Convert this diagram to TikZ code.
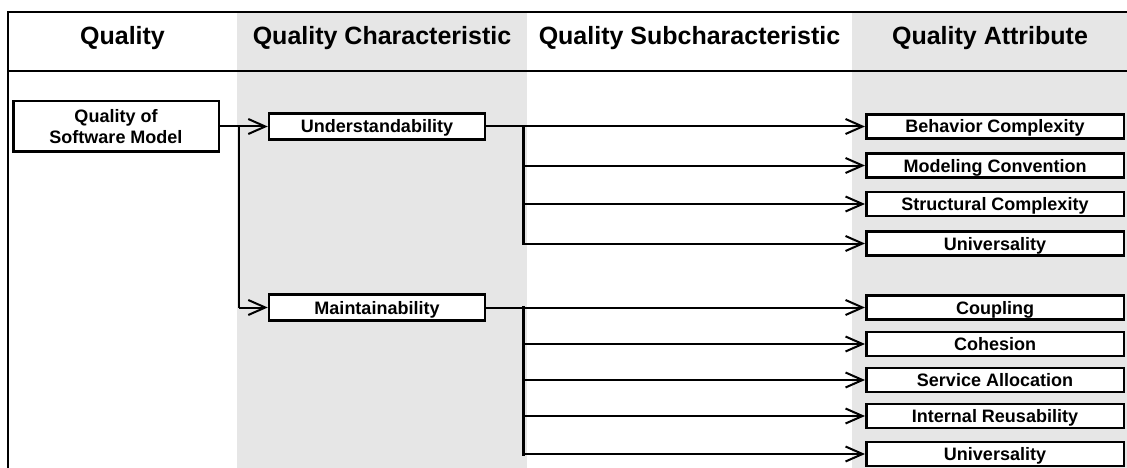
\documentclass[tikz,border=0pt]{standalone}
\usepackage{fontspec}
\setmainfont{Liberation Sans}
\usetikzlibrary{arrows.meta}
\definecolor{colshade}{RGB}{230,230,230}
\begin{document}
\begin{tikzpicture}[x=1pt,y=-1pt,
  hdr/.style={font=\fontsize{25}{30}\selectfont\bfseries, anchor=base, inner sep=0pt},
  boxbase/.style={draw, line width=2.5pt, fill=white, inner sep=0pt,
    font=\fontsize{18}{21}\selectfont\bfseries},
  box/.style={boxbase, text height=13pt, text depth=0pt},
  charbox/.style={box, minimum width=216pt, minimum height=26pt},
  attrbox/.style={box, minimum width=257.5pt, minimum height=24pt},
  link/.style={line width=2pt},
  arr/.style={link, -{Straight Barb[length=17pt,width=15pt]}},
  trunk/.style={line width=3pt, line cap=rect}
]
\useasboundingbox (0,0) rectangle (1127,468);

% shaded columns
\fill[colshade] (236.5,12) rectangle (527,468);
\fill[colshade] (852,12) rectangle (1127,468);

% table frame
\draw[line width=1.8pt] (8,12) -- (1127,12);
\draw[line width=2pt] (8,71) -- (1127,71);
\draw[line width=2.5pt] (8,11.1) -- (8,468);

% column headers
\node[hdr] (h1) at (122.5,44.5) {Quality};
\node[hdr] (h2) at (382,44.5) {Quality Characteristic};
\node[hdr] (h3) at (689.5,44.5) {Quality Subcharacteristic};
\node[hdr] (h4) at (990,44.5) {Quality Attribute};

% quality
\node[boxbase, align=center, minimum width=205.5pt, minimum height=50.5pt]
  (qsm) at (116,126.5) {Quality of\\Software Model};

% characteristics
\node[charbox] (und) at (377,126.5) {Understandability};
\node[charbox] (mnt) at (377,307.5) {Maintainability};

% attributes
\node[attrbox] (beh) at (995,126.5) {Behavior Complexity};
\node[attrbox] (mod) at (995,165.5) {Modeling Convention};
\node[attrbox] (str) at (995,204) {Structural Complexity};
\node[attrbox] (unia) at (995,243.5) {Universality};
\node[attrbox] (cpl) at (995,307.5) {Coupling};
\node[attrbox] (coh) at (995,344) {Cohesion};
\node[attrbox] (srv) at (995,380) {Service Allocation};
\node[attrbox] (irs) at (995,416) {Internal Reusability};
\node[attrbox] (unib) at (995,454) {Universality};

% quality -> characteristics
\coordinate (split) at (239,126.5);
\draw[arr] (qsm.east) -- (und.west);
\draw[link] (split) -- (split |- mnt.west);
\draw[arr] (split |- mnt.west) -- (mnt.west);

% understandability -> attributes
\coordinate (ubr) at (523,126.5);
\draw[arr] (und.east) -- (beh.west);
\foreach \t in {mod,str,unia}
  \draw[arr] (ubr |- \t.west) -- (\t.west);
\draw[trunk] (ubr) -- (ubr |- unia.west);

% maintainability -> attributes
\coordinate (mbr) at (523,307.5);
\draw[arr] (mnt.east) -- (cpl.west);
\foreach \t in {coh,srv,irs,unib}
  \draw[arr] (mbr |- \t.west) -- (\t.west);
\draw[trunk] (mbr) -- (mbr |- unib.west);
\end{tikzpicture}
\end{document}
